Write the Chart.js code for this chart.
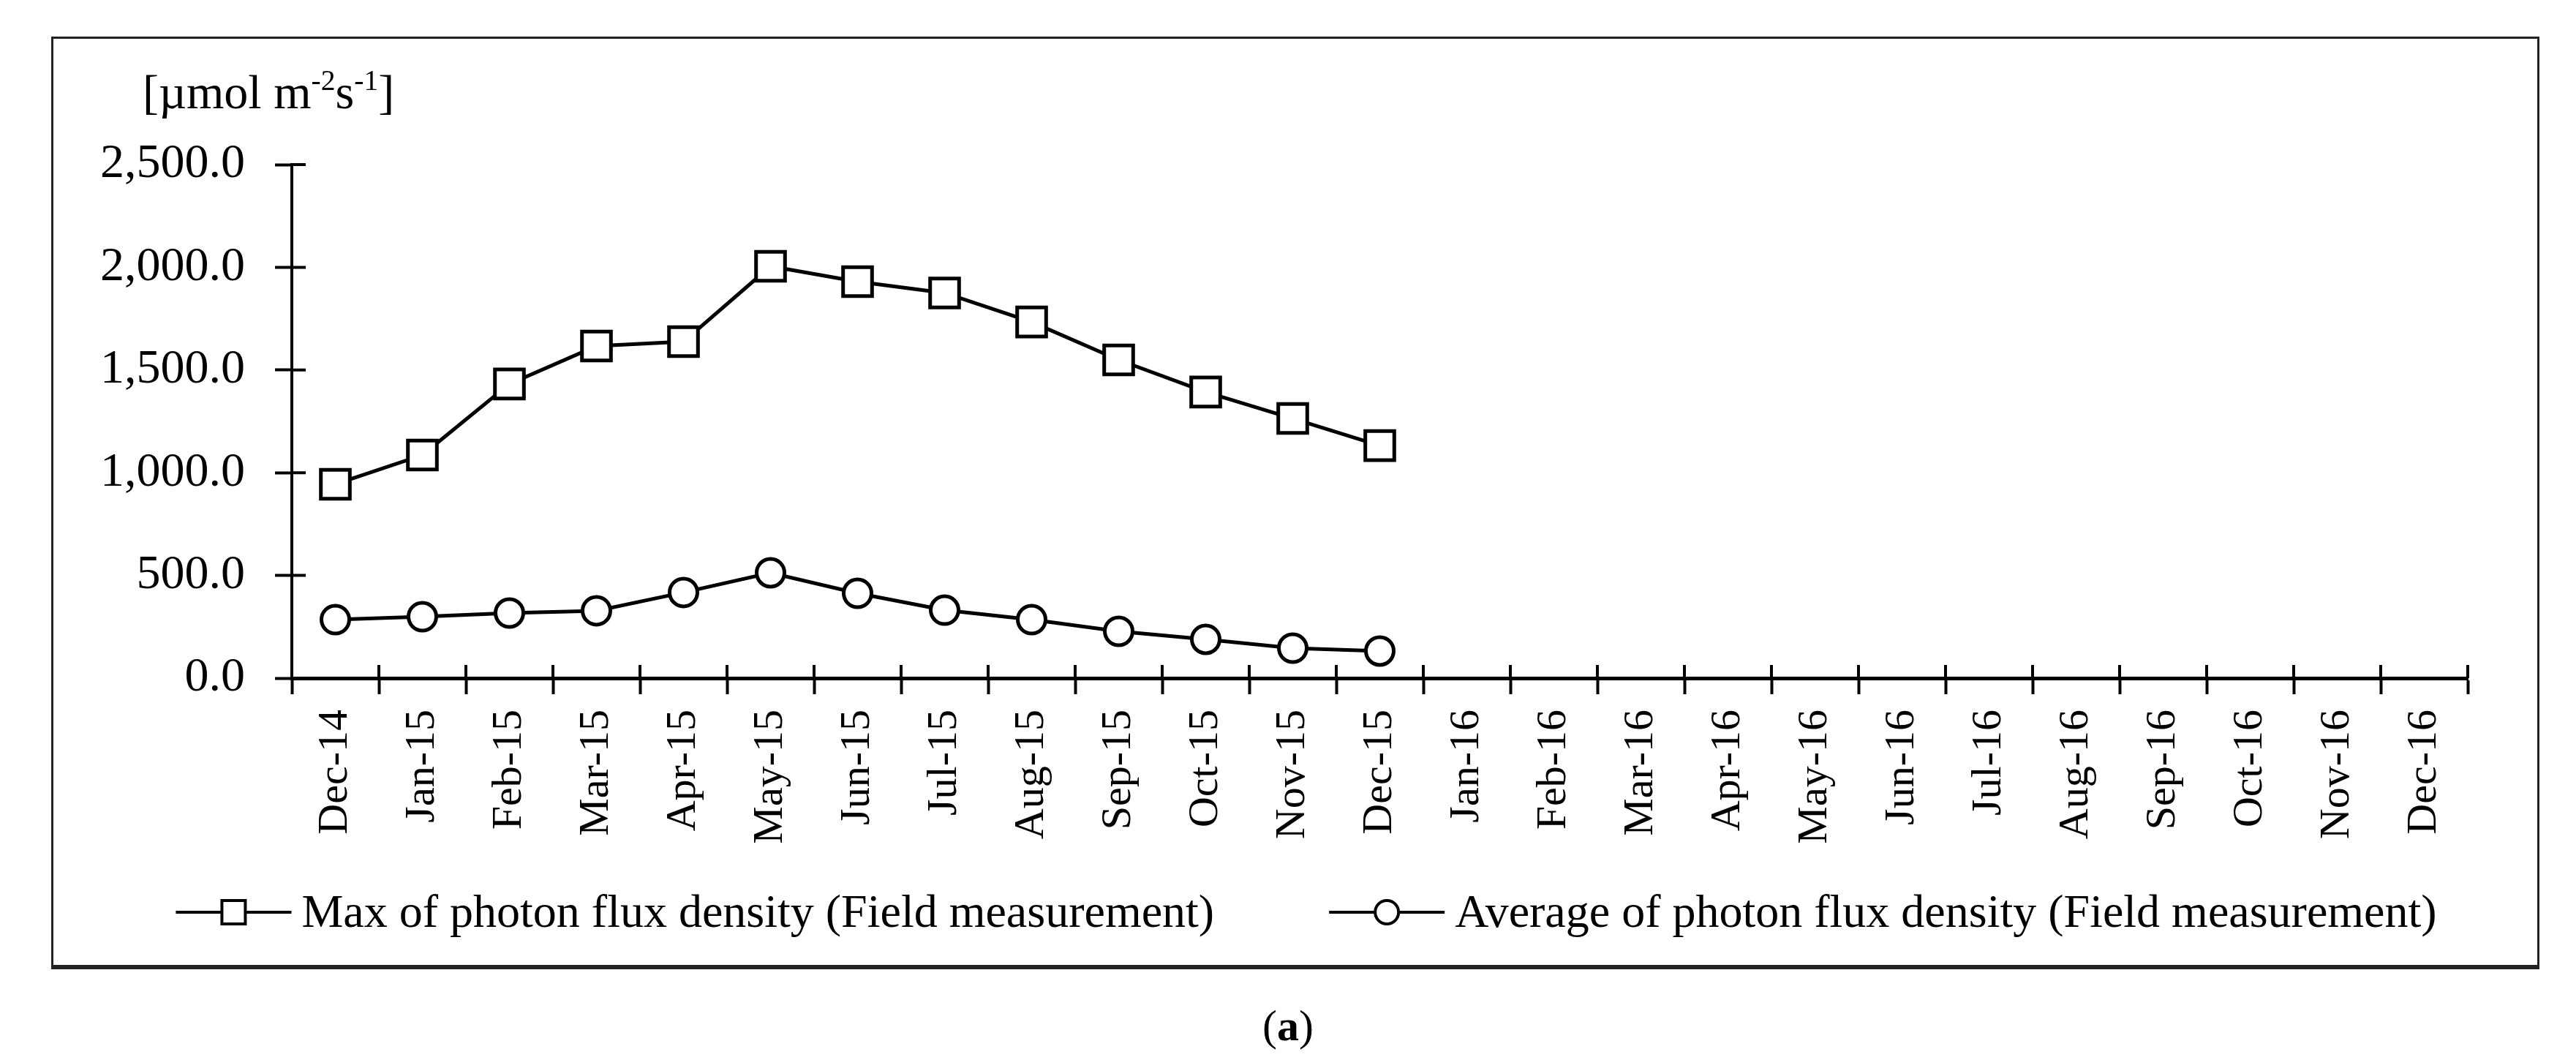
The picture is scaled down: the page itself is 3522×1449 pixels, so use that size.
<!DOCTYPE html>
<html>
<head>
<meta charset="utf-8">
<script src="https://cdn.jsdelivr.net/npm/chart.js@4.4.1/dist/chart.umd.min.js"></script>
<style>
  html, body { margin: 0; padding: 0; background: #fff; }
  body { width: 3522px; height: 1449px; position: relative; overflow: hidden; font-family: "Liberation Serif", "Times New Roman", serif; color: #000; }
  #frame { position: absolute; left: 70px; top: 50px; width: 3402px; height: 1275px; box-sizing: border-box; border: 3px solid #222; border-bottom-width: 6px; }
  #wrap { position: absolute; left: 73px; top: 53px; width: 3396px; height: 1266px; }
  #unit { position: absolute; left: 195px; top: 93px; font-size: 66px; line-height: 66px; white-space: nowrap; }
  #unit sup { font-size: 0.6em; vertical-align: 0.62em; line-height: 0; }
  #caption { position: absolute; left: 0; width: 3522px; top: 1372px; text-align: center; font-size: 60px; line-height: 60px; }
</style>
</head>
<body>
<div id="frame"></div>
<div id="wrap"><canvas id="myChart"></canvas></div>
<div id="unit">[µmol m<sup>-2</sup>s<sup>-1</sup>]</div>
<div id="caption">(<b>a</b>)</div>

<script>
// カテゴリ（月）
const months = ['Dec-14', 'Jan-15', 'Feb-15', 'Mar-15', 'Apr-15', 'May-15', 'Jun-15', 'Jul-15',
  'Aug-15', 'Sep-15', 'Oct-15', 'Nov-15', 'Dec-15', 'Jan-16', 'Feb-16', 'Mar-16', 'Apr-16',
  'May-16', 'Jun-16', 'Jul-16', 'Aug-16', 'Sep-16', 'Oct-16', 'Nov-16', 'Dec-16'];

// 系列の値
const maxFlux = [944, 1086, 1432, 1617, 1638, 2005, 1930, 1875, 1734, 1549, 1393, 1264, 1132];
const avgFlux = [285, 299, 317, 328, 417, 513, 413, 331, 285, 228, 189, 146, 132];

const seriesNames = ['Max of photon flux density (Field measurement)', 'Average of photon flux density (Field measurement)'];

// Y軸の目盛
const yTicks = [0, 500, 1000, 1500, 2000, 2500];

const FONT = '"Liberation Serif", "Times New Roman", serif';

// 軸の内側にも目盛を描く
const crossTicks = {
  id: 'crossTicks',
  afterDraw(chart) {
    const { ctx, chartArea, scales: { x, y } } = chart;
    ctx.save();
    ctx.strokeStyle = '#000';
    ctx.lineWidth = 4;
    ctx.beginPath();
    for (let i = 0; i <= months.length; i++) {
      const px = x.getPixelForValue(i - 0.5);
      ctx.moveTo(px, chartArea.bottom);
      ctx.lineTo(px, chartArea.bottom - 18);
    }
    yTicks.forEach(v => {
      const py = y.getPixelForValue(v);
      ctx.moveTo(chartArea.left, py);
      ctx.lineTo(chartArea.left + 19, py);
    });
    ctx.stroke();
    ctx.restore();
  }
};

// 凡例（線の上にマーカーを重ねた形）
const lineLegend = {
  id: 'lineLegend',
  afterDraw(chart) {
    const { ctx } = chart;
    const iconW = 158, gapText = 14, gapItem = 157, cy = 1194;
    ctx.save();
    ctx.font = '64px ' + FONT;
    ctx.textBaseline = 'middle';
    const items = chart.data.datasets.map(ds => ({ ds, w: ctx.measureText(ds.label).width }));
    const total = items.reduce((s, it) => s + iconW + gapText + it.w, 0) + gapItem * (items.length - 1);
    let x = chart.width / 2 + 15 - total / 2;
    items.forEach(({ ds, w }) => {
      ctx.strokeStyle = '#000';
      ctx.lineWidth = 4;
      ctx.beginPath();
      ctx.moveTo(x, cy);
      ctx.lineTo(x + iconW, cy);
      ctx.stroke();
      ctx.fillStyle = '#fff';
      ctx.beginPath();
      if (ds.pointStyle === 'rect') ctx.rect(x + iconW / 2 - 16, cy - 16, 32, 32);
      else ctx.arc(x + iconW / 2, cy, 16, 0, Math.PI * 2);
      ctx.fill();
      ctx.stroke();
      ctx.fillStyle = '#000';
      ctx.fillText(ds.label, x + iconW + gapText, cy + 3);
      x += iconW + gapText + w + gapItem;
    });
    ctx.restore();
  }
};

const chartCanvas = document.getElementById('myChart');
new Chart(chartCanvas, {
  type: 'line',
  data: {
    labels: months,
    datasets: [
      {
        label: seriesNames[0],
        data: maxFlux,
        borderColor: '#000',
        borderWidth: 5,
        pointStyle: 'rect',
        pointRadius: 28,
        pointBackgroundColor: '#fff',
        pointBorderColor: '#000',
        pointBorderWidth: 5,
        tension: 0
      },
      {
        label: seriesNames[1],
        data: avgFlux,
        borderColor: '#000',
        borderWidth: 5,
        pointStyle: 'circle',
        pointRadius: 19,
        pointBackgroundColor: '#fff',
        pointBorderColor: '#000',
        pointBorderWidth: 5,
        tension: 0
      }
    ]
  },
  options: {
    responsive: true,
    maintainAspectRatio: false,
    animation: false,
    devicePixelRatio: 1,
    layout: { padding: { left: 20, right: 95, top: 172, bottom: 162 } },
    scales: {
      x: {
        offset: true,
        afterFit: s => { s.height = 230; },
        grid: { offset: true, drawOnChartArea: false, tickLength: 22, tickWidth: 4, tickColor: '#000' },
        border: { color: '#000', width: 5 },
        ticks: {
          autoSkip: false,
          minRotation: 90,
          maxRotation: 90,
          padding: 21,
          color: '#000',
          font: { family: FONT, size: 58 }
        }
      },
      y: {
        min: 0,
        max: 2500,
        afterFit: s => { s.width = 306; },
        afterBuildTicks: s => { s.ticks = yTicks.map(v => ({ value: v })); },
        grid: { drawOnChartArea: false, tickLength: 23, tickWidth: 4, tickColor: '#000' },
        border: { color: '#000', width: 4 },
        ticks: {
          padding: 41,
          color: '#000',
          font: { family: FONT, size: 66 },
          callback: v => v.toLocaleString('en-US', { minimumFractionDigits: 1, maximumFractionDigits: 1 })
        }
      }
    },
    plugins: {
      tooltip: { enabled: false },
      legend: { display: false }
    }
  },
  plugins: [crossTicks, lineLegend]
});
</script>
</body>
</html>
